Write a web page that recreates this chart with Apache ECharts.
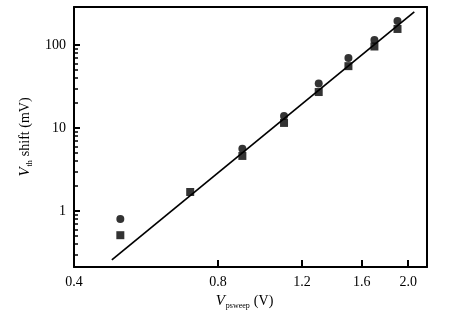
<!DOCTYPE html>
<html>
<head>
<meta charset="utf-8">
<script src="https://cdn.jsdelivr.net/npm/echarts@6/dist/echarts.min.js"></script>
<style>html,body{margin:0;padding:0;background:#fff}#c{width:467px;height:322px}</style>
</head>
<body>
<div id="c"></div>
<script>
// Sweep voltage (V) and threshold-voltage shift (mV)
var sweepV = [0.5, 0.7, 0.9, 1.1, 1.3, 1.5, 1.7, 1.9];
var circleShift = [0.80, null, 5.6, 13.9, 34.3, 69.7, 115, 195];
var squareShift = [0.51, 1.69, 4.6, 11.5, 27.1, 55.6, 95.9, 156];
// Fitted line endpoints
var fitV = [0.48, 2.06];
var fitShift = [0.257, 251];
// Axis tick labels
var xTicks = [0.4, 0.8, 1.2, 1.6, 2.0];
var yTicks = [1, 10, 100];
var yMinorTicks = [0.3, 0.4, 0.5, 0.6, 0.7, 0.8, 0.9, 2, 3, 4, 5, 6, 7, 8, 9, 20, 30, 40, 50, 60, 70, 80, 90];

var X_MIN = 0.4, X_MAX = 2.19, Y_MIN = 0.211, Y_MAX = 287;

function pairs(xs, ys) {
  var out = [];
  for (var i = 0; i < xs.length; i++) if (ys[i] != null) out.push([xs[i], ys[i]]);
  return out;
}

var FONT = '"Liberation Serif", "Times New Roman", serif';
var rich = {
  i: { fontFamily: FONT, fontStyle: 'italic', fontSize: 15, color: '#000' },
  s: { fontFamily: FONT, fontSize: 8, color: '#000', padding: [9, 4, 0, 1] },
  n: { fontFamily: FONT, fontSize: 14, color: '#000' }
};
var frameLine = { show: true, onZero: false, lineStyle: { color: '#000', width: 2 } };
var xBase = { type: 'log', logBase: 10, min: X_MIN, max: X_MAX, splitLine: { show: false } };
var yBase = { type: 'log', logBase: 10, min: Y_MIN, max: Y_MAX, splitLine: { show: false } };

var chart = echarts.init(document.getElementById('c'));
chart.setOption({
  animation: false,
  grid: { left: 74, right: 40, top: 7, bottom: 55 },
  xAxis: [
    Object.assign({}, xBase, {
      position: 'bottom',
      name: '{i|V}{s|psweep}{n|(V)}', nameLocation: 'middle', nameGap: 24,
      nameTextStyle: { rich: rich, padding: [0, 12, 0, 0] },
      axisLine: frameLine,
      axisTick: { show: true, inside: true, length: 7, customValues: xTicks.slice(1), lineStyle: { color: '#000', width: 2 } },
      axisLabel: { customValues: xTicks, fontFamily: FONT, fontSize: 14, color: '#000', margin: 8,
        formatter: function (v) { return (+v).toFixed(1); } }
    }),
    // top edge of the frame
    Object.assign({}, xBase, {
      position: 'top', axisLine: frameLine, axisTick: { show: false }, axisLabel: { show: false }
    })
  ],
  yAxis: [
    Object.assign({}, yBase, {
      position: 'left',
      name: '{i|V}{s|th}{n|shift (mV)}', nameLocation: 'middle', nameGap: 40, nameRotate: 90,
      nameTextStyle: { rich: rich },
      axisLine: frameLine,
      axisTick: { show: true, inside: true, length: 6, customValues: yTicks, lineStyle: { color: '#000', width: 2 } },
      axisLabel: { customValues: yTicks, fontFamily: FONT, fontSize: 14, color: '#000', margin: 8,
        formatter: function (v) { return String(Math.round(v)); } }
    }),
    // minor decade ticks on the same left edge
    Object.assign({}, yBase, {
      position: 'left',
      axisLine: { show: false },
      axisTick: { show: true, inside: true, length: 4, customValues: yMinorTicks, lineStyle: { color: '#000', width: 1.5 } },
      axisLabel: { show: false }
    }),
    // right edge of the frame
    Object.assign({}, yBase, {
      position: 'right', axisLine: frameLine, axisTick: { show: false }, axisLabel: { show: false }
    })
  ],
  series: [
    { type: 'line', data: pairs(fitV, fitShift), symbol: 'none', lineStyle: { color: '#000', width: 1.7 }, z: 1 },
    { type: 'scatter', data: pairs(sweepV, circleShift), symbol: 'circle', symbolSize: 8, itemStyle: { color: '#000' }, z: 2 },
    { type: 'scatter', data: pairs(sweepV, squareShift), symbol: 'rect', symbolSize: 8, itemStyle: { color: '#000' }, z: 3 }
  ]
});
</script>
</body>
</html>
